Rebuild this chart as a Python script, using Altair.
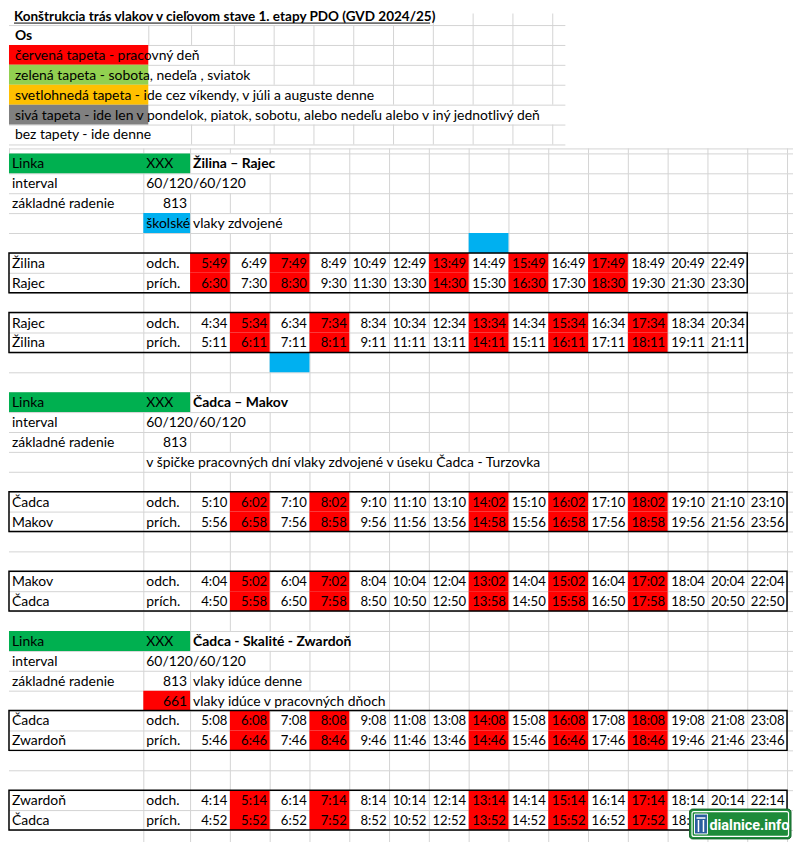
import altair as alt
import pandas as pd

# ======================= DATA =======================
title_text = "Konštrukcia trás vlakov v cieľovom stave 1. etapy PDO (GVD 2024/25)"
legend_header = "Os"
legend_labels = [
    "červená tapeta - pracovný deň",
    "zelená tapeta - sobota, nedeľa , sviatok",
    "svetlohnedá tapeta - ide cez víkendy, v júli a auguste denne",
    "sivá tapeta - ide len v pondelok, piatok, sobotu, alebo nedeľu alebo v iný jednotlivý deň",
    "bez tapety - ide denne",
]
legend_colors = ["#FF0000", "#92D050", "#FFC000", "#808080", ""]

line_label = "Linka"
line_code = "XXX"
interval_label = "interval"
set_label = "základné radenie"
dep_label = "odch."
arr_label = "prích."

line_names = ["Žilina – Rajec", "Čadca – Makov", "Čadca - Skalité - Zwardoň"]
line_intervals = ["60/120/60/120", "60/120/60/120", "60/120/60/120"]
line_sets = ["813", "813", "813"]

note1_cell = "školské"
note1_text = "vlaky zdvojené"
note2_text = "v špičke pracovných dní vlaky zdvojené v úseku Čadca - Turzovka"
note3a_text = "vlaky idúce denne"
note3_set = "661"
note3b_text = "vlaky idúce v pracovných dňoch"

zr_stations = ["Žilina", "Rajec"]
zr_dep = ["5:49", "6:49", "7:49", "8:49", "10:49", "12:49", "13:49", "14:49", "15:49", "16:49", "17:49", "18:49", "20:49", "22:49"]
zr_arr = ["6:30", "7:30", "8:30", "9:30", "11:30", "13:30", "14:30", "15:30", "16:30", "17:30", "18:30", "19:30", "21:30", "23:30"]
zr_red = [1, 0, 1, 0, 0, 0, 1, 0, 1, 0, 1, 0, 0, 0]
zr_school = [0, 0, 0, 0, 0, 0, 0, 1, 0, 0, 0, 0, 0, 0]

rz_stations = ["Rajec", "Žilina"]
rz_dep = ["4:34", "5:34", "6:34", "7:34", "8:34", "10:34", "12:34", "13:34", "14:34", "15:34", "16:34", "17:34", "18:34", "20:34"]
rz_arr = ["5:11", "6:11", "7:11", "8:11", "9:11", "11:11", "13:11", "14:11", "15:11", "16:11", "17:11", "18:11", "19:11", "21:11"]
rz_red = [0, 1, 0, 1, 0, 0, 0, 1, 0, 1, 0, 1, 0, 0]
rz_school = [0, 0, 1, 0, 0, 0, 0, 0, 0, 0, 0, 0, 0, 0]

cm_stations = ["Čadca", "Makov"]
cm_dep = ["5:10", "6:02", "7:10", "8:02", "9:10", "11:10", "13:10", "14:02", "15:10", "16:02", "17:10", "18:02", "19:10", "21:10", "23:10"]
cm_arr = ["5:56", "6:58", "7:56", "8:58", "9:56", "11:56", "13:56", "14:58", "15:56", "16:58", "17:56", "18:58", "19:56", "21:56", "23:56"]
cm_red = [0, 1, 0, 1, 0, 0, 0, 1, 0, 1, 0, 1, 0, 0, 0]

mc_stations = ["Makov", "Čadca"]
mc_dep = ["4:04", "5:02", "6:04", "7:02", "8:04", "10:04", "12:04", "13:02", "14:04", "15:02", "16:04", "17:02", "18:04", "20:04", "22:04"]
mc_arr = ["4:50", "5:58", "6:50", "7:58", "8:50", "10:50", "12:50", "13:58", "14:50", "15:58", "16:50", "17:58", "18:50", "20:50", "22:50"]
mc_red = [0, 1, 0, 1, 0, 0, 0, 1, 0, 1, 0, 1, 0, 0, 0]

cz_stations = ["Čadca", "Zwardoň"]
cz_dep = ["5:08", "6:08", "7:08", "8:08", "9:08", "11:08", "13:08", "14:08", "15:08", "16:08", "17:08", "18:08", "19:08", "21:08", "23:08"]
cz_arr = ["5:46", "6:46", "7:46", "8:46", "9:46", "11:46", "13:46", "14:46", "15:46", "16:46", "17:46", "18:46", "19:46", "21:46", "23:46"]
cz_red = [0, 1, 0, 1, 0, 0, 0, 1, 0, 1, 0, 1, 0, 0, 0]

zc_stations = ["Zwardoň", "Čadca"]
zc_dep = ["4:14", "5:14", "6:14", "7:14", "8:14", "10:14", "12:14", "13:14", "14:14", "15:14", "16:14", "17:14", "18:14", "20:14", "22:14"]
# the last two arrivals are hidden under the watermark in the source picture
zc_arr = ["4:52", "5:52", "6:52", "7:52", "8:52", "10:52", "12:52", "13:52", "14:52", "15:52", "16:52", "17:52", "18:52"]
zc_red = [0, 1, 0, 1, 0, 0, 0, 1, 0, 1, 0, 1, 0, 0, 0]

logo_text = "dialnice.info"

# ======================= STYLE =======================
FONT = "Lato"
FS = 14
TIME_FS = 13.2
TITLE_FS = 13.6
GRID = "#D4D4D4"
RED = "#FF0000"
LINE_GREEN = "#00B050"
BLUE = "#00B0F0"

# ======================= BOTTOM SHEET LAYOUT =======================
b_cells, b_fills, b_boxes = [], [], []
b_hidden = set()


def b_text(r, c, text, kind="left"):
    b_cells.append({"x": c + (1 if kind in ("right", "time") else 0), "y": r + 0.5, "text": text, "kind": kind})


def b_fill(r, c, color, span=1):
    b_fills.append({"x": c, "x2": c + span, "y": r, "y2": r + 1, "color": color})


def b_hide(r, b1, b2):
    for b in range(b1, b2 + 1):
        b_hidden.add((r, b))


def header(r0, k, name_span):
    b_fill(r0, 0, LINE_GREEN, 2)
    b_text(r0, 0, line_label)
    b_text(r0, 1, line_code)
    b_text(r0, 2, line_names[k], "bold")
    b_hide(r0, 1, 1)
    b_hide(r0, 3, name_span)
    b_text(r0 + 1, 0, interval_label)
    b_text(r0 + 1, 1, line_intervals[k])
    b_hide(r0 + 1, 2, 3)
    b_text(r0 + 2, 0, set_label)
    b_text(r0 + 2, 1, line_sets[k], "right")


def timetable(r0, stations, dep, arr, red, school=None, school_row=None):
    b_text(r0, 0, stations[0])
    b_text(r0, 1, dep_label)
    b_text(r0 + 1, 0, stations[1])
    b_text(r0 + 1, 1, arr_label)
    for i, d in enumerate(dep):
        c = 2 + i
        b_text(r0, c, d, "time")
        if i < len(arr):
            b_text(r0 + 1, c, arr[i], "time")
        if red[i]:
            b_fill(r0, c, RED)
            b_fill(r0 + 1, c, RED)
        if school is not None and school[i]:
            b_fill(school_row, c, BLUE)
    b_boxes.append({"x": 0, "x2": 2 + len(dep), "y": r0, "y2": r0 + 2})


# block 1
header(0, 0, 4)
b_fill(3, 1, BLUE)
b_text(3, 1, note1_cell)
b_text(3, 2, note1_text)
b_hide(3, 3, 4)
timetable(5, zr_stations, zr_dep, zr_arr, zr_red, zr_school, 4)
timetable(8, rz_stations, rz_dep, rz_arr, rz_red, rz_school, 10)
# block 2
header(12, 1, 4)
b_text(15, 1, note2_text)
b_hide(15, 2, 10)
timetable(17, cm_stations, cm_dep, cm_arr, cm_red)
timetable(21, mc_stations, mc_dep, mc_arr, mc_red)
# block 3
header(24, 2, 5)
b_text(26, 2, note3a_text)
b_hide(26, 3, 4)
b_fill(27, 1, RED)
b_text(27, 1, note3_set, "right")
b_text(27, 2, note3b_text)
b_hide(27, 3, 6)
timetable(28, cz_stations, cz_dep, cz_arr, cz_red)
timetable(32, zc_stations, zc_dep, zc_arr, zc_red)

N_ROWS = 35
b_h = [{"x": 0, "x2": 17.15, "y": r} for r in range(N_ROWS)] + [{"x": 0, "x2": 17.15, "y": -0.25}]
b_v = [{"x": b, "y": r, "y2": r + 1} for r in range(N_ROWS) for b in range(1, 18) if (r, b) not in b_hidden]
b_v += [{"x": b, "y": -0.25, "y2": 0} for b in range(0, 18)]

bx = alt.Scale(domain=[0, 1, 2, 17], range=[0, 135, 182, 782], zero=False, nice=False)
by = alt.Scale(domain=[0, 34.25], range=[0, 685], zero=False, nice=False)

# ======================= TOP SHEET LAYOUT =======================
t_hidden = {0: range(1, 8), 2: range(1, 3), 3: range(1, 4), 4: range(1, 7), 5: range(1, 12), 6: range(1, 2)}
t_h = [{"x": 0, "x2": 11.33, "y": r} for r in range(1, 8)]
t_v = []
for r in range(0, 7):
    for b in range(1, 12):
        if b in t_hidden.get(r, []):
            continue
        t_v.append({"x": b, "y": 0.42 if r == 0 else r, "y2": r + 1})
t_fills = [{"x": 0, "x2": 1, "y": 2 + i, "y2": 3 + i, "color": c} for i, c in enumerate(legend_colors) if c]
t_texts = [{"x": 0, "y": 2.5 + i, "text": t} for i, t in enumerate(legend_labels)]
t_bold = [{"x": 0, "y": 1.5, "text": legend_header}]
t_title = [{"x": 0, "y": 0.82, "text": title_text}]
t_ul = [{"x": 0.036, "x2": 7.93, "y": 0.9}]

tx = alt.Scale(domain=[0, 1, 2, 3, 11], range=[0, 140, 183, 226, 546], zero=False, nice=False)
ty = alt.Scale(domain=[0, 7], range=[-8, 132], zero=False, nice=False)


def X(f, s):
    return alt.X(f, type="quantitative", scale=s, axis=None)


def Y(f, s):
    return alt.Y(f, type="quantitative", scale=s, axis=None)


def df(rows):
    return pd.DataFrame(rows)


def text_layer(rows, sx, sy, **kw):
    base = dict(baseline="middle", font=FONT, fontSize=FS, color="black", dy=1)
    base.update(kw)
    return alt.Chart(df(rows)).mark_text(**base).encode(x=X("x", sx), y=Y("y", sy), text="text:N")


# ---- top panel ----
top = alt.layer(
    alt.Chart(df(t_h)).mark_rule(color=GRID, strokeWidth=1, yOffset=0.5).encode(x=X("x", tx), x2="x2:Q", y=Y("y", ty)),
    alt.Chart(df(t_v)).mark_rule(color=GRID, strokeWidth=1, xOffset=0.5).encode(x=X("x", tx), y=Y("y", ty), y2="y2:Q"),
    alt.Chart(df(t_fills)).mark_rect().encode(x=X("x", tx), x2="x2:Q", y=Y("y", ty), y2="y2:Q",
                                              color=alt.Color("color:N", scale=None)),
    text_layer(t_texts, tx, ty, align="left", dx=6),
    text_layer(t_bold, tx, ty, align="left", dx=6, fontWeight="bold"),
    text_layer(t_title, tx, ty, align="left", dx=5, fontWeight="bold", baseline="alphabetic", dy=0,
               fontSize=TITLE_FS),
    alt.Chart(df(t_ul)).mark_rule(color="black", strokeWidth=1).encode(x=X("x", tx), x2="x2:Q", y=Y("y", ty)),
).properties(width=786, height=141)

# ---- bottom panel ----
cells = df(b_cells)
logo = pd.DataFrame([{"text": logo_text}])
bottom = alt.layer(
    alt.Chart(df(b_h)).mark_rule(color=GRID, strokeWidth=1, yOffset=0.5).encode(x=X("x", bx), x2="x2:Q", y=Y("y", by)),
    alt.Chart(df(b_v)).mark_rule(color=GRID, strokeWidth=1, xOffset=0.5).encode(x=X("x", bx), y=Y("y", by), y2="y2:Q"),
    alt.Chart(df(b_fills)).mark_rect().encode(x=X("x", bx), x2="x2:Q", y=Y("y", by), y2="y2:Q",
                                              color=alt.Color("color:N", scale=None)),
    alt.Chart(df(b_boxes)).mark_rect(fillOpacity=0, stroke="black", strokeWidth=1.5).encode(
        x=X("x", bx), x2="x2:Q", y=Y("y", by), y2="y2:Q"),
    text_layer(cells[cells.kind == "left"].to_dict("records"), bx, by, align="left", dx=3),
    text_layer(cells[cells.kind == "right"].to_dict("records"), bx, by, align="right", dx=-3),
    text_layer(cells[cells.kind == "time"].to_dict("records"), bx, by, align="right", dx=-2.5, fontSize=TIME_FS),
    text_layer(cells[cells.kind == "bold"].to_dict("records"), bx, by, align="left", dx=3, fontWeight="bold"),
    # watermark badge
    alt.Chart(logo).mark_rect(fill="#1E8B3A", stroke="#14652A", strokeWidth=1, cornerRadius=3).encode(
        x=alt.value(684), x2=alt.value(786), y=alt.value(659), y2=alt.value(689)),
    alt.Chart(logo).mark_rect(fillOpacity=0, stroke="white", strokeWidth=1.2, cornerRadius=2).encode(
        x=alt.value(686.5), x2=alt.value(783.5), y=alt.value(661.5), y2=alt.value(686.5)),
    alt.Chart(logo).mark_rect(fill="#2B5E9E", stroke="white", strokeWidth=1).encode(
        x=alt.value(689), x2=alt.value(702), y=alt.value(664), y2=alt.value(684)),
    alt.Chart(logo).mark_rule(color="white", strokeWidth=1.5).encode(
        x=alt.value(693), y=alt.value(670), y2=alt.value(682)),
    alt.Chart(logo).mark_rule(color="white", strokeWidth=1.5).encode(
        x=alt.value(698), y=alt.value(670), y2=alt.value(682)),
    alt.Chart(logo).mark_rule(color="white", strokeWidth=1.5).encode(
        x=alt.value(691), x2=alt.value(700), y=alt.value(668)),
    alt.Chart(logo).mark_text(align="left", baseline="alphabetic", font="Roboto", fontSize=14.5,
                              fontWeight="bold", color="white").encode(
        x=alt.value(704), y=alt.value(680), text="text:N"),
).properties(width=786, height=685)

chart = alt.vconcat(top, bottom, spacing=0, bounds="flush", padding=0).configure_view(strokeWidth=0)

chart.save("out.html", embed_options={"renderer": "svg", "actions": False})
